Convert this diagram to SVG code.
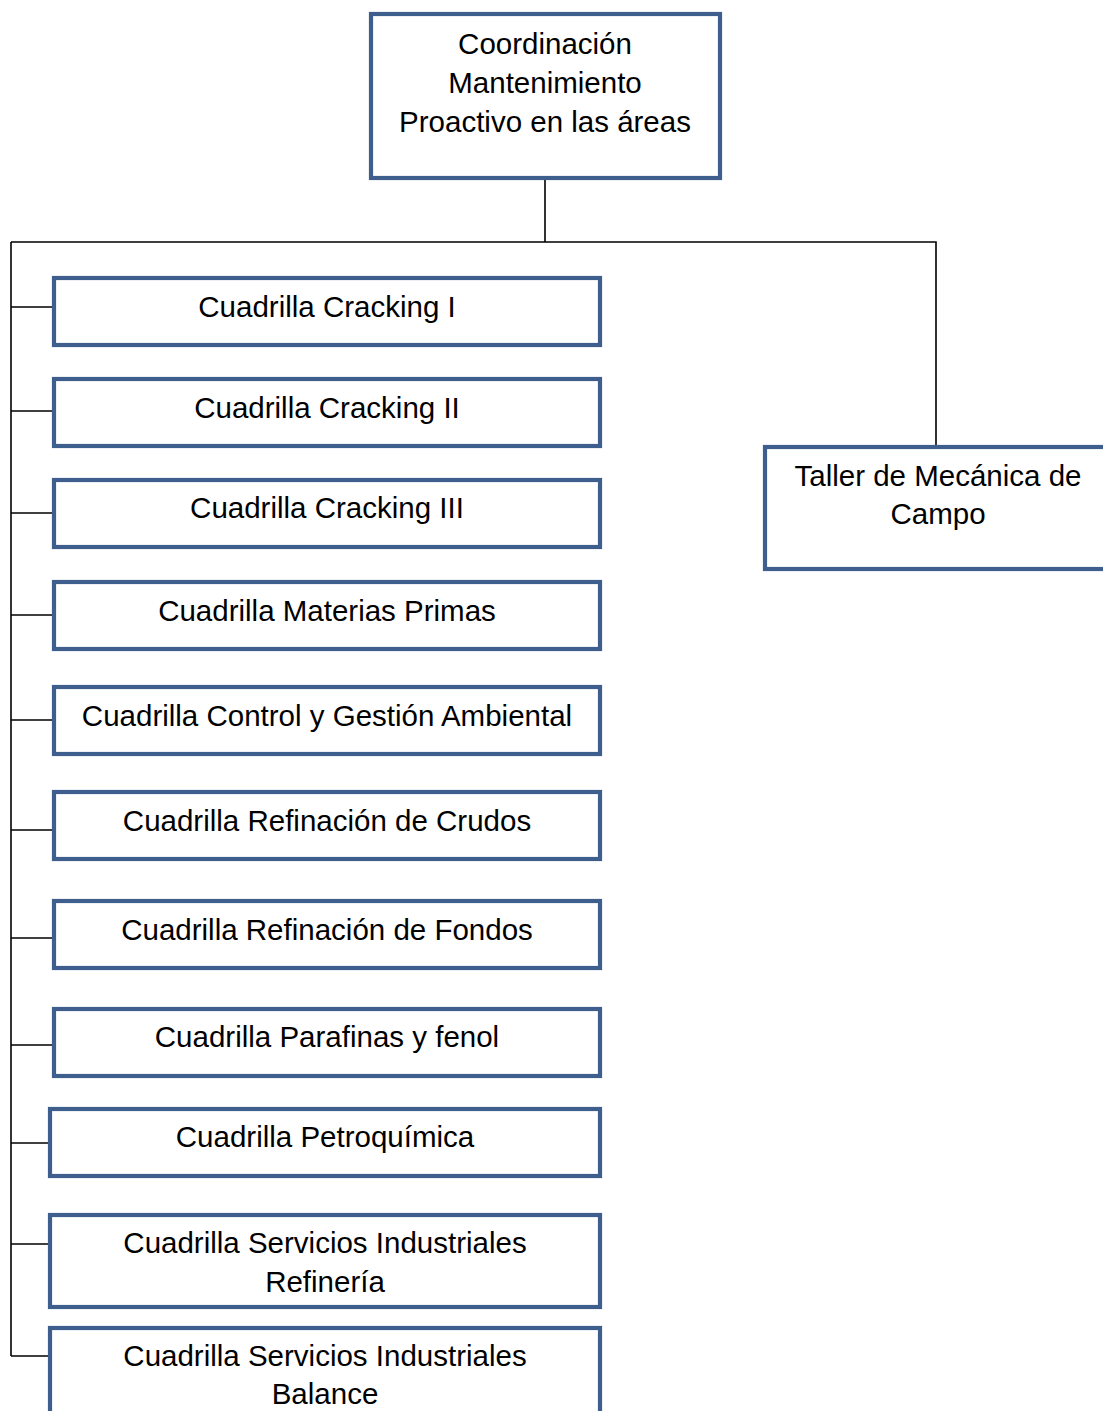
<svg xmlns="http://www.w3.org/2000/svg" width="1103" height="1411" viewBox="0 0 1103 1411">
  <style>
    .box { fill: #ffffff; stroke: #3e5f8e; stroke-width: 4.2; }
    .lbl { font-family: "Liberation Sans", Arial, sans-serif; font-size: 29.5px; fill: #000000; text-anchor: middle; }
    .wire { fill: none; stroke: #000000; stroke-width: 1.6; }
  </style>
  <rect width="1103" height="1411" fill="#ffffff"/>

  <!-- connectors -->
  <g id="connectors" class="wire">
    <path d="M545 178 V242"/>
    <path d="M11 242 H936 V445"/>
    <path d="M11 242 V1356"/>
    <path d="M11 307 H54"/>
    <path d="M11 411 H54"/>
    <path d="M11 513 H54"/>
    <path d="M11 615 H54"/>
    <path d="M11 720 H54"/>
    <path d="M11 830 H54"/>
    <path d="M11 938 H54"/>
    <path d="M11 1045 H54"/>
    <path d="M11 1143 H50"/>
    <path d="M11 1244 H50"/>
    <path d="M11 1356 H50"/>
  </g>

  <g id="root">
    <rect class="box" x="371" y="14" width="349" height="164"/>
    <text class="lbl" x="545" y="54">Coordinación</text>
    <text class="lbl" x="545" y="93">Mantenimiento</text>
    <text class="lbl" x="545" y="132">Proactivo en las áreas</text>
  </g>

  <g id="taller">
    <rect class="box" x="765" y="447" width="345" height="122"/>
    <text class="lbl" x="938" y="486">Taller de Mecánica de</text>
    <text class="lbl" x="938" y="524">Campo</text>
  </g>

  <g id="cracking-1">
    <rect class="box" x="54" y="278" width="546" height="67"/>
    <text class="lbl" x="327" y="317">Cuadrilla Cracking I</text>
  </g>
  <g id="cracking-2">
    <rect class="box" x="54" y="379" width="546" height="67"/>
    <text class="lbl" x="327" y="418">Cuadrilla Cracking II</text>
  </g>
  <g id="cracking-3">
    <rect class="box" x="54" y="480" width="546" height="67"/>
    <text class="lbl" x="327" y="518">Cuadrilla Cracking III</text>
  </g>
  <g id="materias-primas">
    <rect class="box" x="54" y="582" width="546" height="67"/>
    <text class="lbl" x="327" y="621">Cuadrilla Materias Primas</text>
  </g>
  <g id="control-gestion">
    <rect class="box" x="54" y="687" width="546" height="67"/>
    <text class="lbl" x="327" y="726">Cuadrilla Control y Gestión Ambiental</text>
  </g>
  <g id="refinacion-crudos">
    <rect class="box" x="54" y="792" width="546" height="67"/>
    <text class="lbl" x="327" y="831">Cuadrilla Refinación de Crudos</text>
  </g>
  <g id="refinacion-fondos">
    <rect class="box" x="54" y="901" width="546" height="67"/>
    <text class="lbl" x="327" y="940">Cuadrilla Refinación de Fondos</text>
  </g>
  <g id="parafinas">
    <rect class="box" x="54" y="1009" width="546" height="67"/>
    <text class="lbl" x="327" y="1047">Cuadrilla Parafinas y fenol</text>
  </g>
  <g id="petroquimica">
    <rect class="box" x="50" y="1109" width="550" height="67"/>
    <text class="lbl" x="325" y="1147">Cuadrilla Petroquímica</text>
  </g>
  <g id="servicios-refineria">
    <rect class="box" x="50" y="1215" width="550" height="92"/>
    <text class="lbl" x="325" y="1253">Cuadrilla Servicios Industriales</text>
    <text class="lbl" x="325" y="1292">Refinería</text>
  </g>
  <g id="servicios-balance">
    <rect class="box" x="50" y="1328" width="550" height="120"/>
    <text class="lbl" x="325" y="1366">Cuadrilla Servicios Industriales</text>
    <text class="lbl" x="325" y="1404">Balance</text>
  </g>
</svg>
